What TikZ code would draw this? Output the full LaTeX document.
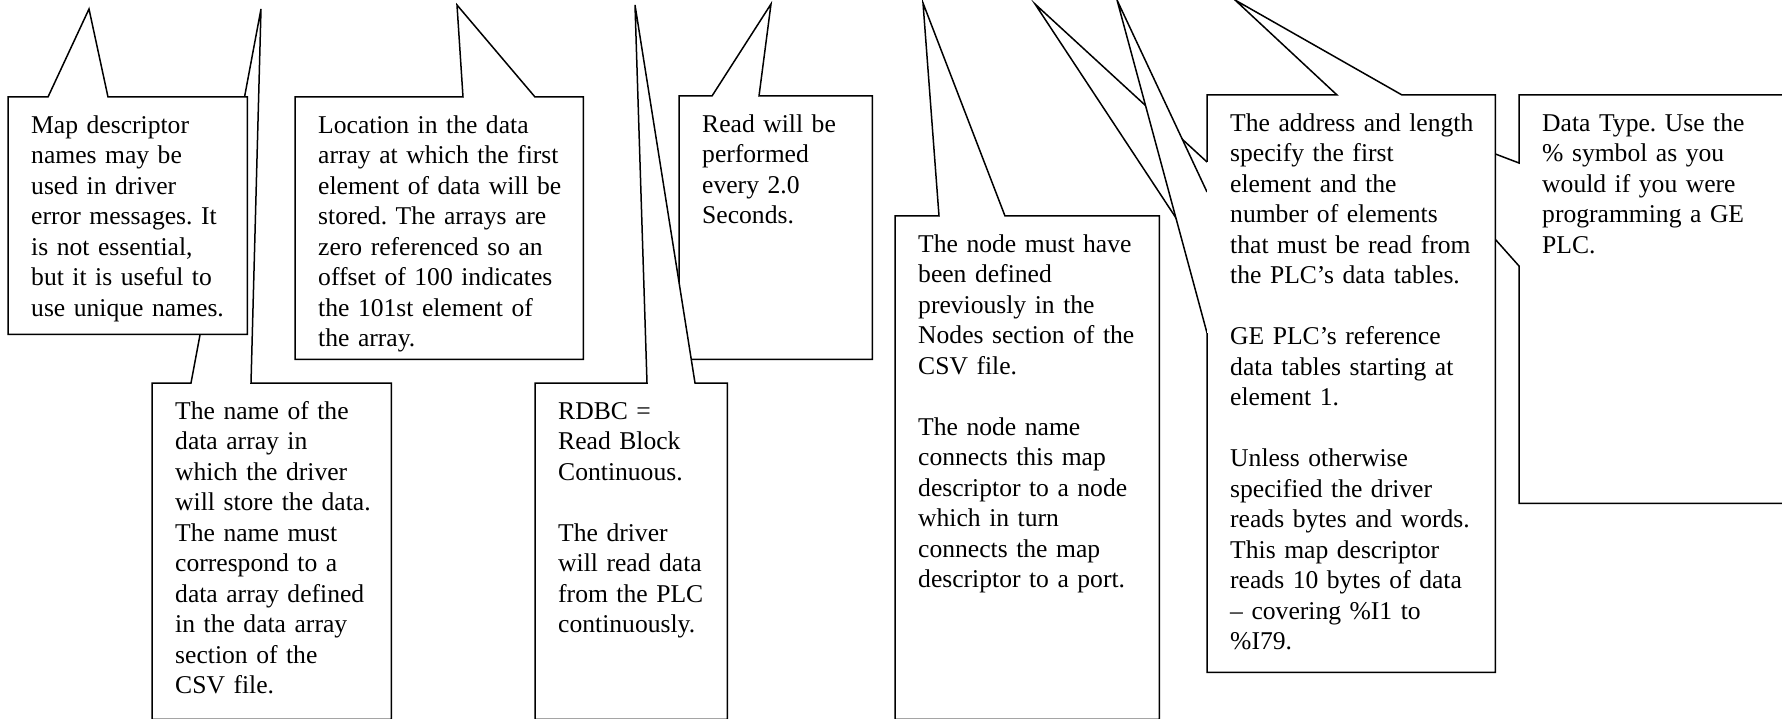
\documentclass[tikz,border=0pt]{standalone}
\usepackage{fontspec}
\setmainfont{Liberation Serif}
\usetikzlibrary{backgrounds}

\tikzset{
  note/.style 2 args={anchor=north west, inner xsep=0pt, inner ysep=0pt,
    align=left, text width=#1, text height=36pt, text depth=#2},
  callout/.style={draw=black, fill=white, line width=1.5pt},
}

\begin{document}
\frenchspacing
\begin{tikzpicture}[x=1pt, y=-1pt, font=\fontsize{25.6pt}{30.5pt}\selectfont]
    \useasboundingbox (0,0) rectangle (1782,719);

    % callout texts (the box edge is 23pt left of each node)
    \node[note={216pt}{201pt}] (mapname) at (31,97) {Map descriptor\\names may be\\used in driver\\error messages. It\\is not essential,\\but it is useful to\\use unique names.};
    \node[note={216pt}{300pt}] (arrayname) at (175,383) {The name of the\\data array in\\which the driver\\will store the data.\\The name must\\correspond to a\\data array defined\\in the data array\\section of the\\CSV file.};
    \node[note={265pt}{226pt}] (offset) at (318,97) {Location in the data\\array at which the first\\element of data will be\\stored. The arrays are\\zero referenced so an\\offset of 100 indicates\\the 101st element of\\the array.};
    \node[note={169pt}{300pt}] (function) at (558,383) {RDBC =\\Read Block\\Continuous.\\[30.5pt]The driver\\will read data\\from the PLC\\continuously.};
    \node[note={170pt}{227pt}] (scanrate) at (702,96) {Read will be\\performed\\every 2.0\\Seconds.};
    \node[note={241pt}{467pt}] (nodename) at (918,216) {The node must have\\been defined\\previously in the\\Nodes section of the\\CSV file.\\[30.5pt]The node name\\connects this map\\descriptor to a node\\which in turn\\connects the map\\descriptor to a port.};
    \node[note={265pt}{541pt}] (address) at (1230,95) {The address and length\\specify the first\\element and the\\number of elements\\that must be read from\\the PLC’s data tables.\\[30.5pt]GE PLC’s reference\\data tables starting at\\element 1.\\[30.5pt]Unless otherwise\\specified the driver\\reads bytes and words.\\This map descriptor\\reads 10 bytes of data\\– covering \%I1 to\\\%I79.};
    \node[note={258pt}{372pt}] (datatype) at (1542,95) {Data Type. Use the\\\% symbol as you\\would if you were\\programming a GE\\PLC.};

    % pointer tips
    \coordinate (mapnametip) at (89,9);
    \coordinate (arraynametip) at (261,9);
    \coordinate (offsettip) at (457,5);
    \coordinate (functiontip) at (635,5);
    \coordinate (scanratetip) at (771,4);
    \coordinate (nodenametip) at (923,3);
    \coordinate (addresstip) at (1235,0);
    \coordinate (addresstipa) at (1035,4);
    \coordinate (addresstipb) at (1117,0);
    \coordinate (datatypetip) at (1380,110);

    \begin{scope}[on background layer]
        \fill[white] (0,0) rectangle (1782,719);

        % callouts pointing up
        \draw[callout] ([xshift=-23pt]arrayname.north west) -- ([xshift=16pt]arrayname.north west) -- (arraynametip) -- ([xshift=76pt]arrayname.north west) -- (arrayname.north east) -- (arrayname.south east) -- ([xshift=-23pt]arrayname.south west) -- cycle;
        \draw[callout] ([xshift=-23pt]mapname.north west) -- ([xshift=17pt]mapname.north west) -- (mapnametip) -- ([xshift=77pt]mapname.north west) -- (mapname.north east) -- (mapname.south east) -- ([xshift=-23pt]mapname.south west) -- cycle;
        \draw[callout] ([xshift=-23pt]offset.north west) -- ([xshift=145pt]offset.north west) -- (offsettip) -- ([xshift=217pt]offset.north west) -- (offset.north east) -- (offset.south east) -- ([xshift=-23pt]offset.south west) -- cycle;
        \draw[callout] ([xshift=-23pt]scanrate.north west) -- ([xshift=10pt]scanrate.north west) -- (scanratetip) -- ([xshift=57pt]scanrate.north west) -- (scanrate.north east) -- (scanrate.south east) -- ([xshift=-23pt]scanrate.south west) -- cycle;
        \draw[callout] ([xshift=-23pt]function.north west) -- ([xshift=89pt]function.north west) -- (functiontip) -- ([xshift=137pt]function.north west) -- (function.north east) -- (function.south east) -- ([xshift=-23pt]function.south west) -- cycle;
        \draw[callout] ([xshift=-23pt]nodename.north west) -- ([xshift=21pt]nodename.north west) -- (nodenametip) -- ([xshift=87pt]nodename.north west) -- (nodename.north east) -- (nodename.south east) -- ([xshift=-23pt]nodename.south west) -- cycle;

        % data type callout, its tip hidden behind the address box
        \draw[callout] ([xshift=-23pt]datatype.north west) -- (datatype.north east) -- (datatype.south east) -- ([xshift=-23pt]datatype.south west) -- ([xshift=-23pt,yshift=-171pt]datatype.north west) -- (datatypetip) -- ([xshift=-23pt,yshift=-68pt]datatype.north west) -- cycle;

        % address callout: two side pointers, then the box
        \draw[callout] ([xshift=-23pt,yshift=-67pt]address.north west) -- (addresstipa) -- ([xshift=-23pt,yshift=-170pt]address.north west);
        \draw[callout] ([xshift=-23pt,yshift=-97pt]address.north west) -- (addresstipb) -- ([xshift=-23pt,yshift=-238pt]address.north west);
        \draw[callout] ([xshift=-23pt,yshift=-238pt]address.north west) -- ([xshift=-23pt]address.south west) -- (address.south east) -- (address.north east) -- ([xshift=172pt]address.north west) -- (addresstip) -- ([xshift=107pt]address.north west) -- ([xshift=-23pt]address.north west) -- ([xshift=-23pt,yshift=-67pt]address.north west);
    \end{scope}
\end{tikzpicture}
\end{document}
